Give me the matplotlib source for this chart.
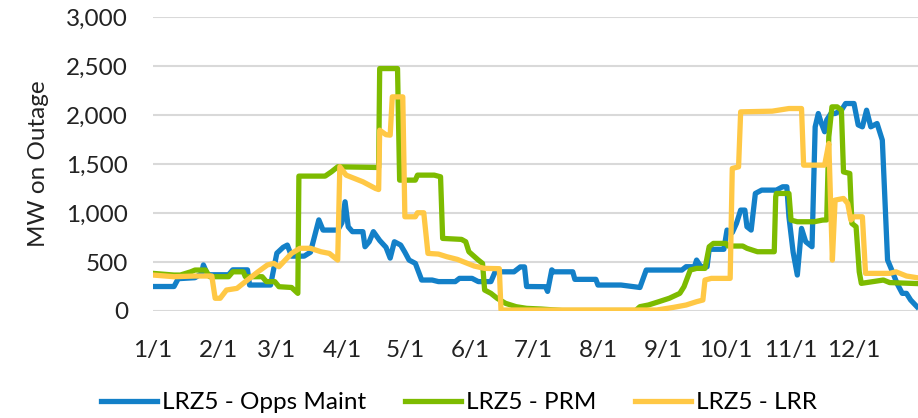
import matplotlib
matplotlib.use("Agg")
import matplotlib.pyplot as plt

plt.rcParams['font.family'] = ['Lato', 'DejaVu Sans']

# day of year (0 = Jan 1) and MW on outage
opps_day = [0, 10, 12, 20, 23, 24, 26, 36, 38, 45, 46, 56, 59, 62, 64, 66, 72, 75, 79, 81,
            88, 90, 91.5, 93, 95, 100, 101, 103, 105, 108, 111, 113, 115, 118, 120, 122, 125,
            128, 133, 136, 144, 146, 152, 155, 161, 163, 172, 175, 177, 178, 187, 188, 190,
            191, 200, 201, 211, 212, 223, 232, 235, 252, 254, 258, 259, 261, 264, 265, 272,
            273.5, 276, 278, 280, 282, 283, 285, 287, 290, 297, 300, 302, 303, 305, 307, 309,
            311, 314, 315.5, 317, 318.5, 320, 321, 323, 325, 328, 330, 334, 336, 338, 340,
            342, 345, 347.5, 350, 352, 354.5, 357, 359, 361, 364]
opps_mw = [250, 250, 330, 340, 380, 470, 370, 370, 420, 420, 265, 265, 590, 650, 673, 560, 560,
           600, 930, 826, 826, 900, 1115, 860, 810, 810, 656, 707, 810, 720, 650, 540, 707, 673,
           600, 520, 486, 316, 316, 300, 300, 333, 333, 300, 300, 400, 400, 450, 450, 250, 248,
           200, 420, 400, 400, 323, 323, 265, 265, 240, 418, 418, 452, 452, 520, 452, 452, 630,
           630, 826, 800, 894, 1030, 1030, 860, 826, 1200, 1234, 1234, 1268, 1268, 962, 600,
           367, 843, 707, 656, 1880, 2016, 1914, 1830, 1950, 2016, 2016, 2050, 2118, 2118,
           1900, 1880, 2050, 1880, 1914, 1744, 520, 418, 282, 180, 180, 112, 44]

prm_day = [0, 10, 13, 18, 20, 25, 27, 36, 38, 43, 44, 52, 54, 58, 60, 66, 69, 69.5, 82, 85, 88,
           107.5, 108, 116.5, 117.5, 125, 126, 134, 137, 138, 147, 149, 150.5, 155, 157, 158,
           161, 164, 168, 173, 178, 185, 195, 230, 232, 236, 241, 246, 251, 253, 256, 259, 263,
           265, 267, 273, 274, 281, 283, 288, 296, 296.7, 297, 303, 304, 307, 315, 319, 321,
           322, 323.5, 326, 328, 329, 332, 333, 335, 336.5, 337.5, 348, 351, 364]
prm_mw = [384, 367, 367, 400, 418, 418, 350, 350, 400, 400, 350, 350, 300, 300, 248, 240, 180,
          1377, 1377, 1421, 1472, 1465, 2475, 2475, 1336, 1336, 1387, 1387, 1370, 741, 731,
          707, 605, 520, 486, 214, 180, 129, 78, 44, 27, 20, 5, 5, 44, 61, 95, 130, 180, 248,
          418, 435, 435, 656, 690, 690, 663, 663, 640, 605, 605, 1166, 1200, 1200, 928, 911,
          911, 928, 930, 1778, 2084, 2084, 2050, 1420, 1404, 894, 860, 400, 282, 316, 290, 280]

lrr_day = [0, 10, 20, 28, 29.6, 32, 35, 40, 45, 50, 54.5, 57.6, 60, 63, 66, 70, 75, 80, 84, 88,
           89, 92, 100, 106, 107.5, 108, 111, 113, 114, 119, 120, 125, 126, 129, 131, 136, 140,
           145, 149, 153, 158, 165, 165.8, 240, 248, 254, 259, 262, 263, 266, 275, 276, 279,
           280, 295, 303, 309, 310, 320, 321, 322, 323.7, 325, 329, 331, 332.5, 334, 338,
           339.5, 342, 351, 354, 359, 364]
lrr_mw = [367, 350, 357, 357, 130, 130, 214, 231, 316, 400, 470, 486, 452, 520, 588, 640, 640,
          605, 588, 520, 1472, 1387, 1319, 1251, 1240, 1846, 1800, 1795, 2186, 2186, 962, 962,
          1003, 1003, 588, 581, 554, 527, 493, 459, 435, 432, 10, 10, 37, 61, 95, 112, 316, 333,
          333, 1455, 1472, 2033, 2040, 2067, 2067, 1489, 1489, 1600, 1710, 520, 1132, 1149,
          1098, 928, 962, 962, 384, 384, 384, 400, 357, 340]

month_start = [0, 31, 59, 90, 120, 151, 181, 212, 243, 273, 304, 334]
month_labels = ['1/1', '2/1', '3/1', '4/1', '5/1', '6/1', '7/1', '8/1', '9/1', '10/1', '11/1', '12/1']

fig = plt.figure(figsize=(9.18, 4.18), dpi=100)
ax = fig.add_axes([0.1667, 0.256, 0.8333, 0.703])

ax.plot(opps_day, opps_mw, color='#1380C8', lw=3.8, label='LRZ5 - Opps Maint', solid_joinstyle='round')
ax.plot(prm_day, prm_mw, color='#7DBB00', lw=3.8, label='LRZ5 - PRM', solid_joinstyle='round')
ax.plot(lrr_day, lrr_mw, color='#FFC845', lw=3.8, label='LRZ5 - LRR', solid_joinstyle='round')

ax.set_xlim(0, 364.5)
ax.set_ylim(0, 3000)
ax.set_yticks(range(0, 3001, 500))
ax.set_yticklabels([f'{v:,}' for v in range(0, 3001, 500)])
ax.set_xticks(month_start)
ax.set_xticklabels(month_labels)
ax.tick_params(axis='both', length=0, labelsize=17.5, colors='#222222')
ax.tick_params(axis='y', pad=18)
ax.tick_params(axis='x', pad=21)
ax.grid(axis='y', color='#D9D9D9', lw=1.5)
ax.set_axisbelow(True)
for s in ax.spines.values():
    s.set_visible(False)
ax.set_ylabel('MW on Outage', fontsize=17.5, color='#222222', labelpad=12)

fig.legend(loc='center', bbox_to_anchor=(0.50, 0.036), ncol=3, frameon=False,
           fontsize=17.5, handlelength=2.3, handletextpad=0.2, columnspacing=1.6)

fig.savefig('out.png', dpi=100)
